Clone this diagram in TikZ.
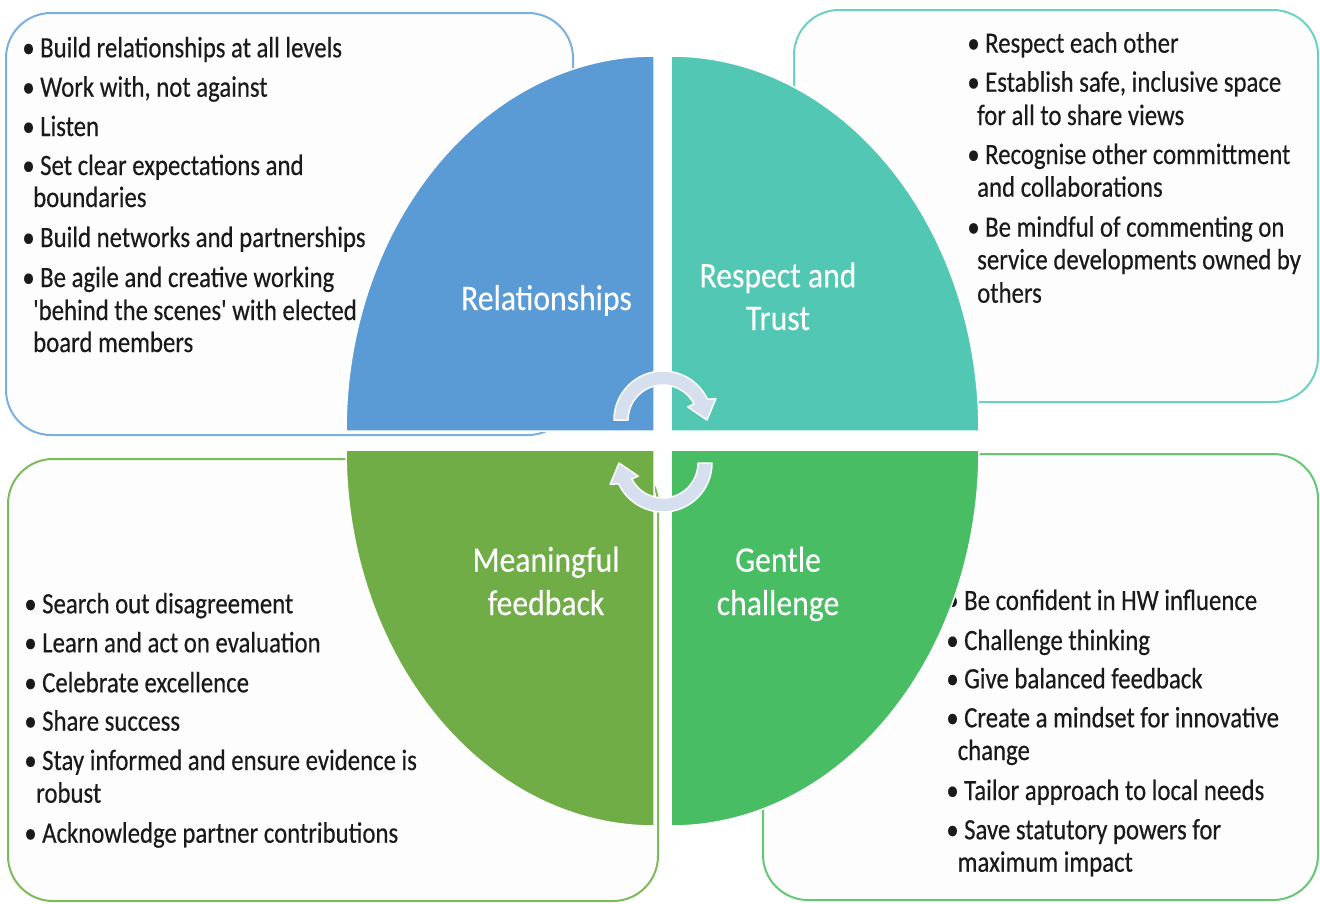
\documentclass[tikz,border=0pt]{standalone}
\usepackage{fontspec}
\setmainfont{Carlito}
\newfontfamily\bodyfont[FakeStretch=0.84,FakeBold=0.35]{Carlito}
\newfontfamily\labfont[FakeStretch=0.88,FakeBold=0.25]{Carlito}
\usetikzlibrary{calc}
\definecolor{qblue}{HTML}{5B9BD5}
\definecolor{qteal}{HTML}{52C8B4}
\definecolor{qgreenA}{HTML}{70AD47}
\definecolor{qgreenB}{HTML}{48BD63}
\definecolor{btl}{HTML}{7BAFDE}
\definecolor{btr}{HTML}{6AD2C3}
\definecolor{bbl}{HTML}{7DBB5A}
\definecolor{bbr}{HTML}{66C876}
\definecolor{boxfill}{HTML}{FDFDFD}
\definecolor{bodytext}{HTML}{1A1A1A}
\definecolor{arrowfill}{HTML}{D6DFEE}
\tikzset{
  box/.style={line width=2pt, fill=boxfill, rounded corners=45pt},
  quad/.style={draw=white, line width=1.5pt},
  body/.style={font=\bodyfont\fontsize{29.5}{33}\selectfont, text=bodytext, inner sep=0pt, anchor=base west},
  lab/.style={font=\labfont\fontsize{36}{43}\selectfont, text=white, inner sep=0pt, anchor=base},
  cyc/.style={fill=arrowfill, draw=white, line width=1.5pt, line join=round},
}
\newcommand\bu{\llap{•\hspace{5.5pt}}}
\newcommand\sq{\char"0027\relax}
\begin{document}
\begin{tikzpicture}[x=1pt,y=-1pt]
\useasboundingbox (0,0) rectangle (1320,903);
\fill[white] (0,0) rectangle (1320,903);
% text boxes
\draw[box, draw=btl] (6,13) rectangle (573,435);
\draw[box, draw=btr] (794,10) rectangle (1318,402);
\draw[box, draw=bbl] (8,459) rectangle (658,901);
\draw[box, draw=bbr] (763,454) rectangle (1318,900);
% top-left text
\node[body] (tl1) at (40,57.3) {\bu Build relationships at all levels};
\node[body] (tl2) at (40,96.7) {\bu Work with, not against};
\node[body] (tl3) at (40,136) {\bu Listen};
\node[body] (tl4) at (40,175) {\bu Set clear expectations and};
\node[body] (tl5) at (33,207) {boundaries};
\node[body] (tl6) at (40,247) {\bu Build networks and partnerships};
\node[body] (tl7) at (40,287) {\bu Be agile and creative working};
\node[body] (tl8) at (33,320) {\sq behind the scenes\sq{} with elected};
\node[body] (tl9) at (33,352) {board members};
% top-right text
\node[body] (tr1) at (985,52.7) {\bu Respect each other};
\node[body] (tr2) at (985,91.7) {\bu Establish safe, inclusive space};
\node[body] (tr3) at (977,125) {for all to share views};
\node[body] (tr4) at (985,164) {\bu Recognise other committment};
\node[body] (tr5) at (977,196.7) {and collaborations};
\node[body] (tr6) at (985,236.7) {\bu Be mindful of commenting on};
\node[body] (tr7) at (977,269.3) {service developments owned by};
\node[body] (tr8) at (977,302.7) {others};
% bottom-left text
\node[body] (bl1) at (42,613.3) {\bu Search out disagreement};
\node[body] (bl2) at (42,652.3) {\bu Learn and act on evaluation};
\node[body] (bl3) at (42,692.3) {\bu Celebrate excellence};
\node[body] (bl4) at (42,730.7) {\bu Share success};
\node[body] (bl5) at (42,770) {\bu Stay informed and ensure evidence is};
\node[body] (bl6) at (36,802.7) {robust};
\node[body] (bl7) at (42,842.7) {\bu Acknowledge partner contributions};
% bottom-right text
\node[body] (br1) at (964,610) {\bu Be confident in HW influence};
\node[body] (br2) at (964,650) {\bu Challenge thinking};
\node[body] (br3) at (964,688.3) {\bu Give balanced feedback};
\node[body] (br4) at (964,727.3) {\bu Create a mindset for innovative};
\node[body] (br5) at (957.5,760) {change};
\node[body] (br6) at (964,800) {\bu Tailor approach to local needs};
\node[body] (br7) at (964,839.3) {\bu Save statutory powers for};
\node[body] (br8) at (957.5,871.7) {maximum impact};
% quadrants
\path[quad, fill=qblue] (654,431) -- (654,56) arc[start angle=270, end angle=180, x radius=308, y radius=375] -- cycle;
\path[quad, fill=qteal] (671,431) -- (671,56) arc[start angle=270, end angle=360, x radius=308, y radius=375] -- cycle;
\path[quad, fill=qgreenA] (654,450) -- (654,826) arc[start angle=90, end angle=180, x radius=308, y radius=376] -- cycle;
\path[quad, fill=qgreenB] (671,450) -- (671,826) arc[start angle=90, end angle=0, x radius=308, y radius=376] -- cycle;
% cycle arrows
\coordinate (c1) at (663,420);
\coordinate (c2) at (663,463);
\path[cyc] ($(c1)+(180:49)$) arc[start angle=180, end angle=335, radius=49]
  -- ($(c1)+(338:57)$) -- ($(c1)+(0:44)$) -- ($(c1)+(332:28)$) -- ($(c1)+(333:35)$)
  arc[start angle=333, end angle=180, radius=35] -- cycle;
\path[cyc] ($(c2)+(0:49)$) arc[start angle=0, end angle=155, radius=49]
  -- ($(c2)+(158:57)$) -- ($(c2)+(180:44)$) -- ($(c2)+(152:28)$) -- ($(c2)+(153:35)$)
  arc[start angle=153, end angle=0, radius=35] -- cycle;
% labels
\node[lab] (l1) at (546.5,310) {Relationships};
\node[lab] (l2a) at (778,287.3) {Respect and};
\node[lab] (l2b) at (778,330) {Trust};
\node[lab] (l3a) at (546,571.7) {Meaningful};
\node[lab] (l3b) at (546,615) {feedback};
\node[lab] (l4a) at (778,571.7) {Gentle};
\node[lab] (l4b) at (778,615) {challenge};
\end{tikzpicture}
\end{document}
